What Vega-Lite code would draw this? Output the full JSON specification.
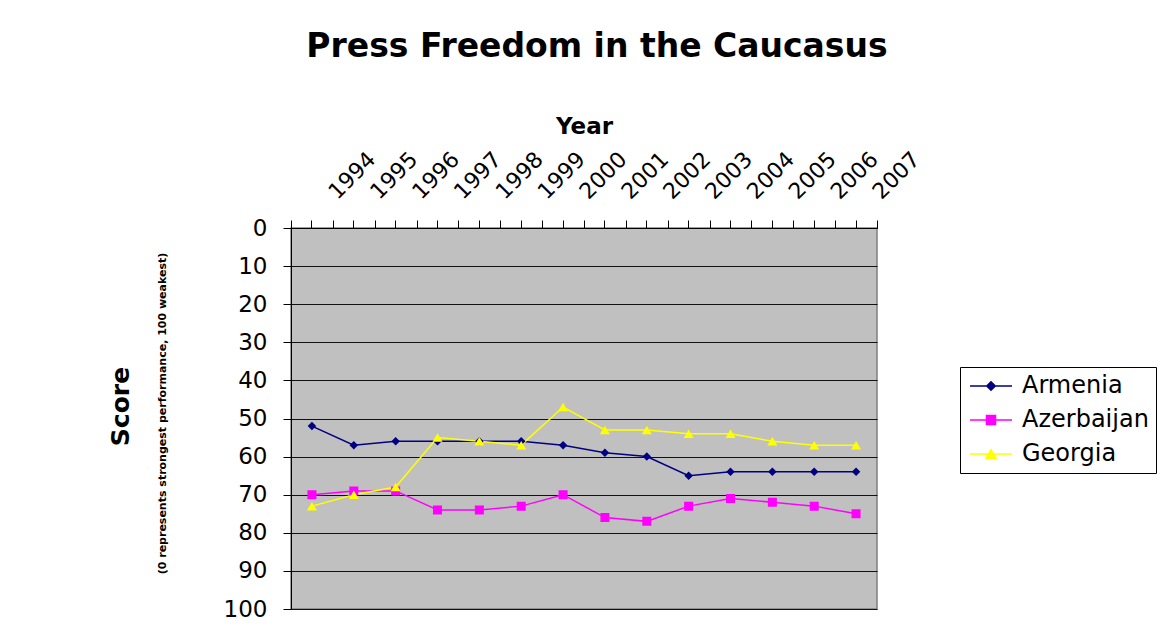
{
  "$schema": "https://vega.github.io/schema/vega-lite/v6.json",
  "autosize": "none",
  "padding": {"left": 291, "top": 228, "right": 299, "bottom": 29},
  "width": 586,
  "height": 381,
  "background": "white",
  "title": {
    "text": "Press Freedom in the Caucasus",
    "font": "DejaVu Sans",
    "fontSize": 33,
    "fontWeight": "bold",
    "color": "black",
    "anchor": "middle",
    "frame": "group",
    "baseline": "alphabetic",
    "dx": 13,
    "offset": 26
  },
  "data": {
    "values": [
      {"Year": "1994", "Country": "Armenia", "Score": 52},
      {"Year": "1995", "Country": "Armenia", "Score": 57},
      {"Year": "1996", "Country": "Armenia", "Score": 56},
      {"Year": "1997", "Country": "Armenia", "Score": 56},
      {"Year": "1998", "Country": "Armenia", "Score": 56},
      {"Year": "1999", "Country": "Armenia", "Score": 56},
      {"Year": "2000", "Country": "Armenia", "Score": 57},
      {"Year": "2001", "Country": "Armenia", "Score": 59},
      {"Year": "2002", "Country": "Armenia", "Score": 60},
      {"Year": "2003", "Country": "Armenia", "Score": 65},
      {"Year": "2004", "Country": "Armenia", "Score": 64},
      {"Year": "2005", "Country": "Armenia", "Score": 64},
      {"Year": "2006", "Country": "Armenia", "Score": 64},
      {"Year": "2007", "Country": "Armenia", "Score": 64},
      {"Year": "1994", "Country": "Azerbaijan", "Score": 70},
      {"Year": "1995", "Country": "Azerbaijan", "Score": 69},
      {"Year": "1996", "Country": "Azerbaijan", "Score": 69},
      {"Year": "1997", "Country": "Azerbaijan", "Score": 74},
      {"Year": "1998", "Country": "Azerbaijan", "Score": 74},
      {"Year": "1999", "Country": "Azerbaijan", "Score": 73},
      {"Year": "2000", "Country": "Azerbaijan", "Score": 70},
      {"Year": "2001", "Country": "Azerbaijan", "Score": 76},
      {"Year": "2002", "Country": "Azerbaijan", "Score": 77},
      {"Year": "2003", "Country": "Azerbaijan", "Score": 73},
      {"Year": "2004", "Country": "Azerbaijan", "Score": 71},
      {"Year": "2005", "Country": "Azerbaijan", "Score": 72},
      {"Year": "2006", "Country": "Azerbaijan", "Score": 73},
      {"Year": "2007", "Country": "Azerbaijan", "Score": 75},
      {"Year": "1994", "Country": "Georgia", "Score": 73},
      {"Year": "1995", "Country": "Georgia", "Score": 70},
      {"Year": "1996", "Country": "Georgia", "Score": 68},
      {"Year": "1997", "Country": "Georgia", "Score": 55},
      {"Year": "1998", "Country": "Georgia", "Score": 56},
      {"Year": "1999", "Country": "Georgia", "Score": 57},
      {"Year": "2000", "Country": "Georgia", "Score": 47},
      {"Year": "2001", "Country": "Georgia", "Score": 53},
      {"Year": "2002", "Country": "Georgia", "Score": 53},
      {"Year": "2003", "Country": "Georgia", "Score": 54},
      {"Year": "2004", "Country": "Georgia", "Score": 54},
      {"Year": "2005", "Country": "Georgia", "Score": 56},
      {"Year": "2006", "Country": "Georgia", "Score": 57},
      {"Year": "2007", "Country": "Georgia", "Score": 57}
    ]
  },
  "encoding": {
    "color": {
      "field": "Country",
      "type": "nominal",
      "scale": {
        "domain": ["Armenia", "Azerbaijan", "Georgia"],
        "range": ["#000080", "#FF00FF", "#FFFF00"]
      },
      "legend": {
        "title": null, "orient": "none", "legendX": 669, "legendY": 139,
        "padding": 7, "strokeColor": "black", "fillColor": "white",
        "symbolSize": 100, "symbolOffset": 12, "symbolStrokeWidth": 1.5,
        "labelFont": "DejaVu Sans", "labelFontSize": 24, "labelColor": "black",
        "labelOffset": 19, "labelLimit": 400, "rowPadding": 10,
        "encode": {
          "symbols": {
            "update": {
              "stroke": {"signal": "scale('color', datum.value)"},
              "strokeWidth": {"value": 1.5},
              "opacity": {"value": 1}
            }
          }
        }
      }
    }
  },
  "layer": [
    {
      "mark": {"type": "line", "strokeWidth": 1.5},
      "encoding": {
        "x": {
          "field": "Year",
          "type": "ordinal",
          "scale": {"type": "band", "paddingInner": 0, "paddingOuter": 0},
          "axis": {
            "orient": "top",
            "title": "Year",
            "titleFont": "DejaVu Sans",
            "titleFontSize": 23,
            "titleFontWeight": "bold",
            "titleBaseline": "alphabetic",
            "titlePadding": 14,
            "labelFont": "DejaVu Sans",
            "labelFontSize": 22,
            "labelAngle": -45,
            "labelAlign": "left",
            "labelBaseline": "alphabetic",
            "labelPadding": 20,
            "labelOffset": 25,
            "labelOverlap": false,
            "tickBand": "extent",
            "tickSize": 8,
            "grid": false
          }
        },
        "y": {
          "field": "Score",
          "type": "quantitative",
          "scale": {"domain": [0, 100], "reverse": true, "nice": false},
          "axis": {
            "orient": "left",
            "values": [0, 10, 20, 30, 40, 50, 60, 70, 80, 90, 100],
            "grid": true,
            "gridColor": "#111111",
            "gridWidth": 1,
            "tickSize": 8,
            "labelFont": "DejaVu Sans",
            "labelFontSize": 23,
            "labelPadding": 16,
            "labelFlush": false,
            "title": "(0 represents strongest performance, 100 weakest)",
            "titleFont": "DejaVu Sans",
            "titleFontSize": 11,
            "titleFontWeight": "bold",
            "titleAngle": 270,
            "titleAlign": "center",
            "titleBaseline": "bottom",
            "titleX": -124,
            "titleY": 185
          }
        }
      }
    },
    {
      "mark": {"type": "point", "filled": true, "size": 100, "opacity": 1},
      "encoding": {
        "x": {
          "field": "Year",
          "type": "ordinal",
          "scale": {"type": "band", "paddingInner": 0, "paddingOuter": 0},
          "axis": {
            "orient": "top",
            "title": null,
            "labels": false,
            "domain": false,
            "tickSize": 8,
            "grid": false
          }
        },
        "y": {
          "field": "Score",
          "type": "quantitative",
          "scale": {"domain": [0, 100], "reverse": true, "nice": false},
          "axis": {
            "orient": "left",
            "domain": false,
            "ticks": false,
            "labels": false,
            "grid": false,
            "title": "Score",
            "titleFont": "DejaVu Sans",
            "titleFontSize": 25,
            "titleFontWeight": "bold",
            "titleAngle": 270,
            "titleAlign": "center",
            "titleBaseline": "bottom",
            "titleX": -158,
            "titleY": 178
          }
        },
        "shape": {
          "field": "Country",
          "type": "nominal",
          "scale": {
            "domain": ["Armenia", "Azerbaijan", "Georgia"],
            "range": [
              "M-4.2,0H4.2M0,-0.85L0.85,0L0,0.85L-0.85,0Z",
              "M-4.2,0H4.2M-0.9,-0.9H0.9V0.9H-0.9Z",
              "M-4.2,0H4.2M0,-0.85L1,0.85H-1Z"
            ]
          },
          "legend": {
            "title": null, "orient": "none", "legendX": 669, "legendY": 139,
            "padding": 7, "strokeColor": "black", "fillColor": "white",
            "symbolSize": 100, "symbolOffset": 12, "symbolStrokeWidth": 1.5,
            "labelFont": "DejaVu Sans", "labelFontSize": 24, "labelColor": "black",
            "labelOffset": 19, "labelLimit": 400, "rowPadding": 10
          }
        }
      }
    }
  ],
  "resolve": {"axis": {"x": "independent", "y": "independent"}},
  "config": {
    "view": {"fill": "#C0C0C0", "stroke": "#808080", "strokeWidth": 1.5},
    "axis": {"domainColor": "black", "tickColor": "black", "labelColor": "black", "titleColor": "black", "domainWidth": 1}
  }
}
